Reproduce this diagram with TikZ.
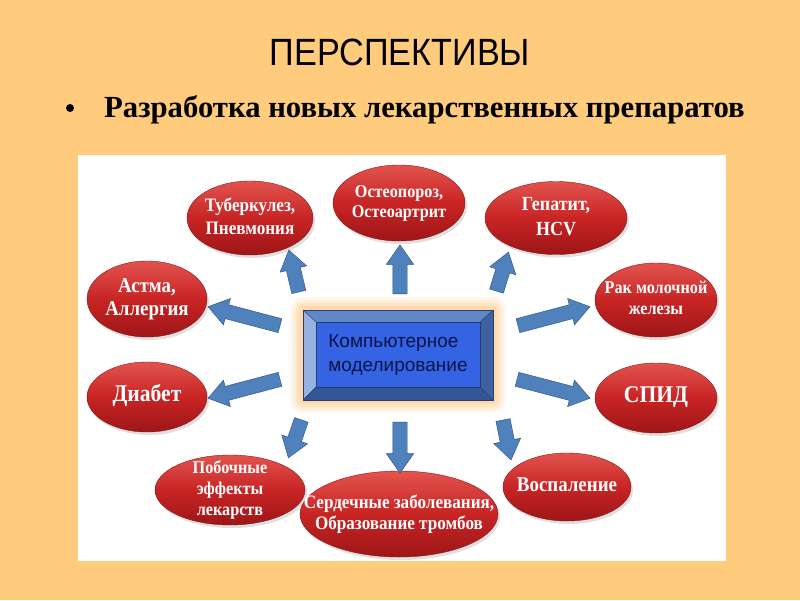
\documentclass[tikz,border=0pt]{standalone}
\usepackage{fontspec}
\setmainfont{Liberation Serif}
\newfontfamily\headfont[FakeStretch=0.9]{Liberation Sans}
\newfontfamily\boxfont{Liberation Sans}
\newfontfamily\ovalserif[FakeStretch=0.9]{Liberation Serif}
\usetikzlibrary{positioning,calc,shapes.geometric,shapes.arrows,shadows}

\definecolor{slidebg}{RGB}{255,203,125}
\definecolor{glowc}{RGB}{255,190,110}
\definecolor{ovalred}{RGB}{200,36,36}
\definecolor{ovaltop}{RGB}{226,84,78}
\definecolor{ovalbot}{RGB}{158,22,24}
\definecolor{ovaledge}{RGB}{140,22,22}
\definecolor{arrowblue}{RGB}{79,129,189}
\definecolor{arrowedge}{RGB}{45,80,132}
\definecolor{faceblue}{RGB}{52,100,228}
\definecolor{beveltop}{RGB}{96,135,200}
\definecolor{bevelleft}{RGB}{150,178,226}
\definecolor{bevelright}{RGB}{62,98,160}
\definecolor{bevelbot}{RGB}{52,86,148}
\definecolor{boxedge}{RGB}{40,62,105}
\definecolor{navytext}{RGB}{12,20,70}

\newcommand{\ovalfont}[2]{\ovalserif\bfseries\fontsize{#1}{#2}\selectfont}
\newcommand{\ovaltext}[1]{\smash{\makebox[0pt]{\raisebox{-0.25em}{\begin{tabular}{@{}c@{}}#1\end{tabular}}}}}
% block arrow: name, tail, tip
\newcommand{\blockarrow}[3]{%
  \path let \p1=($(#3)-(#2)$) in
    node[barrow, rotate={atan2(\y1,\x1)}, minimum height={veclen(\x1,\y1)}] (#1) at ($(#2)!0.5!(#3)$) {};}

\tikzset{
    disease/.style={ellipse, draw=ovaledge, thin, top color=ovaltop, bottom color=ovalbot,
        middle color=ovalred, inner sep=0pt, text=white,
        drop shadow={opacity=0.25, shadow xshift=2pt, shadow yshift=-3pt}},
    barrow/.style={single arrow, draw=arrowedge, fill=arrowblue, thin, inner xsep=0pt,
        inner ysep=7pt, single arrow head extend=6.5pt, single arrow tip angle=70,
        single arrow head indent=0pt, minimum width=0pt},
    bevelbox/.style={rectangle, minimum width=190pt, minimum height=90pt, draw=boxedge,
        fill=faceblue, align=left, text=navytext, font=\boxfont\fontsize{19}{24}\selectfont,
        path picture={
            \coordinate (bNW) at (path picture bounding box.north west);
            \coordinate (bNE) at (path picture bounding box.north east);
            \coordinate (bSW) at (path picture bounding box.south west);
            \coordinate (bSE) at (path picture bounding box.south east);
            \coordinate (iNW) at ($(bNW)+(13,12)$);
            \coordinate (iNE) at ($(bNE)+(-13,12)$);
            \coordinate (iSW) at ($(bSW)+(13,-13)$);
            \coordinate (iSE) at ($(bSE)+(-13,-13)$);
            \fill[beveltop] (bNW) -- (bNE) -- (iNE) -- (iNW) -- cycle;
            \fill[bevelleft] (bNW) -- (iNW) -- (iSW) -- (bSW) -- cycle;
            \fill[bevelright] (bNE) -- (bSE) -- (iSE) -- (iNE) -- cycle;
            \fill[bevelbot] (bSW) -- (iSW) -- (iSE) -- (bSE) -- cycle;
            \draw[boxedge, thin] (iNW) rectangle (iSE);
            \draw[boxedge, thin] (bNW) -- (iNW) (bNE) -- (iNE) (bSW) -- (iSW) (bSE) -- (iSE);
        }}
}

\begin{document}
\begin{tikzpicture}[x=1pt, y=-1pt]
    \useasboundingbox (0,0) rectangle (800,600);
    \fill[slidebg] (0,0) rectangle (800,600);
    \fill[white] (78,155) rectangle (726,561);

    \node[font=\headfont\fontsize{38}{40}\selectfont] (title) at (400,52) {ПЕРСПЕКТИВЫ};
    \node[circle, fill=black, inner sep=0pt, minimum size=8pt] (dot) at (70,108) {};
    \node[anchor=base west, inner sep=0pt, font=\bfseries\fontsize{30.7}{33}\selectfont] (sub)
        at (104,117) {Разработка новых лекарственных препаратов};

    % glow behind the centre box
    \coordinate (cmc) at (398,355);
    \foreach \g/\o in {13/0.12, 10/0.15, 7/0.2, 4/0.25}
        \fill[glowc, opacity=\o, rounded corners=\g pt]
            ($(cmc)+(-95-\g,-45-\g)$) rectangle ($(cmc)+(95+\g,45+\g)$);
    \node[bevelbox] (cm) at (cmc) {Компьютерное\\моделирование};

    % ovals
    \node[disease, minimum width=126pt, minimum height=74pt, font={\ovalfont{19}{23}}] (tb)
        at (250,218) {\ovaltext{Туберкулез,\\Пневмония}};
    \node[disease, minimum width=132pt, minimum height=76pt, font={\ovalfont{18}{20}}] (os)
        at (399,203) {\ovaltext{Остеопороз,\\Остеоартрит}};
    \node[disease, minimum width=142pt, minimum height=73pt, font={\ovalfont{20}{25}}] (gp)
        at (556,218) {\ovaltext{Гепатит,\\HCV}};
    \node[disease, minimum width=120pt, minimum height=76pt, font={\ovalfont{21}{23}}] (as)
        at (147,299) {\ovaltext{Астма,\\Аллергия}};
    \node[disease, minimum width=120pt, minimum height=70pt, font={\ovalfont{24}{26}}] (db)
        at (147,397) {\ovaltext{Диабет}};
    \node[disease, minimum width=122pt, minimum height=74pt, font={\ovalfont{18}{21}}] (rk)
        at (656,300) {\ovaltext{Рак молочной\\железы}};
    \node[disease, minimum width=122pt, minimum height=70pt, font={\ovalfont{24}{26}}] (sp)
        at (656,398) {\ovaltext{СПИД}};
    \node[disease, minimum width=150pt, minimum height=70pt, font={\ovalfont{18}{21}}] (pb)
        at (230,490) {\ovaltext{Побочные\\эффекты\\лекарств}};
    \node[disease, minimum width=198pt, minimum height=86pt, font={\ovalfont{19}{21}}] (sd)
        at (399,514) {\ovaltext{Сердечные заболевания,\\Образование тромбов}};
    \node[disease, minimum width=128pt, minimum height=68pt, font={\ovalfont{21}{22}}] (vs)
        at (567,487) {\ovaltext{Воспаление}};

    % arrow ends
    \coordinate (tbT) at (300,297); \coordinate (tbH) at (290,255);
    \coordinate (osT) at (400,299); \coordinate (osH) at (400,250);
    \coordinate (gpT) at (495,296); \coordinate (gpH) at (507,257);
    \coordinate (asT) at (285,327); \coordinate (asH) at (213,308);
    \coordinate (rkT) at (513,327); \coordinate (rkH) at (585,308);
    \coordinate (dbT) at (285,378); \coordinate (dbH) at (213,397);
    \coordinate (spT) at (512,378); \coordinate (spH) at (585,397);
    \coordinate (pbT) at (303,415); \coordinate (pbH) at (290,453);
    \coordinate (sdT) at (400,417); \coordinate (sdH) at (400,468);
    \coordinate (vsT) at (502,415); \coordinate (vsH) at (510,455);

    \blockarrow{a1}{tbT}{tbH}
    \blockarrow{a2}{osT}{osH}
    \blockarrow{a3}{gpT}{gpH}
    \blockarrow{a4}{asT}{asH}
    \blockarrow{a5}{rkT}{rkH}
    \blockarrow{a6}{dbT}{dbH}
    \blockarrow{a7}{spT}{spH}
    \blockarrow{a8}{pbT}{pbH}
    \blockarrow{a9}{sdT}{sdH}
    \blockarrow{a10}{vsT}{vsH}
\end{tikzpicture}
\end{document}
